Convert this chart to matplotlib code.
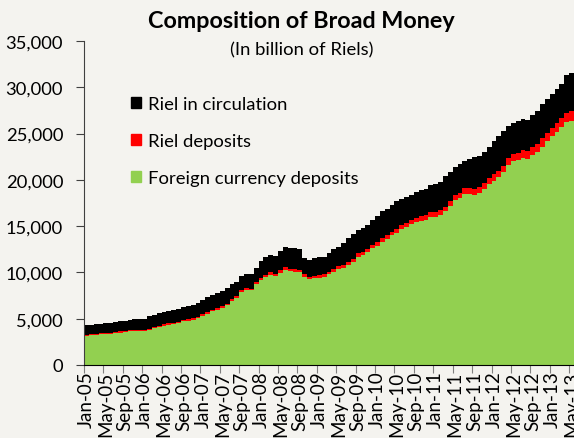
import matplotlib.pyplot as plt
from matplotlib.patches import Patch

# Months Jan-05 .. May-13
months = []
for yr in range(5, 14):
    for m in ["Jan", "Feb", "Mar", "Apr", "May", "Jun", "Jul", "Aug", "Sep", "Oct", "Nov", "Dec"]:
        months.append(f"{m}-{yr:02d}")
months = months[:101]

# Foreign currency deposits (billion Riels)
foreign = [3160, 3200, 3250, 3300, 3380, 3350, 3420, 3500, 3530, 3620, 3650, 3680,
           3660, 3800, 3950, 4100, 4250, 4350, 4400, 4550, 4700, 4800, 4900, 5050,
           5300, 5550, 5800, 5950, 6150, 6450, 6950, 7250, 7900, 8100, 8050, 8700,
           9150, 9500, 9750, 9600, 9950, 10300, 10150, 10100, 10050, 9550, 9300, 9400,
           9450, 9500, 9800, 10050, 10350, 10500, 10800, 11100, 11700, 11900, 12200, 12600,
           12900, 13300, 13600, 14000, 14300, 14700, 14900, 15200, 15400, 15600, 15700, 16000,
           16000, 16200, 16600, 17200, 17800, 18000, 18500, 18500, 18400, 18600, 19000, 19500,
           19900, 20300, 20800, 21600, 22000, 22100, 22400, 22300, 22700, 23000, 23600, 24200,
           24700, 25200, 25700, 26200, 26400]

# Riel deposits
riel_dep = [110, 110, 110, 110, 110, 110, 120, 120, 120, 120, 120, 120,
            130, 130, 130, 130, 130, 140, 140, 140, 140, 150, 150, 150,
            160, 160, 170, 170, 180, 180, 200, 200, 200, 210, 210, 220,
            230, 240, 250, 250, 260, 270, 270, 260, 260, 250, 250, 260,
            270, 280, 290, 300, 300, 320, 330, 340, 350, 360, 370, 380,
            390, 400, 410, 420, 430, 440, 450, 460, 470, 480, 490, 500,
            500, 510, 520, 540, 560, 580, 600, 610, 620, 630, 650, 670,
            690, 710, 730, 760, 780, 790, 800, 820, 840, 860, 880, 900,
            930, 960, 990, 1020, 1050]

# Riel in circulation
riel_circ = [1030, 1040, 1020, 1040, 1060, 1080, 1080, 1080, 1100, 1160, 1150, 1160,
             1210, 1320, 1370, 1420, 1370, 1360, 1410, 1410, 1410, 1450, 1400, 1450,
             1540, 1590, 1630, 1630, 1670, 1720, 1650, 1550, 1550, 1490, 1590, 1580,
             1820, 1960, 1900, 1950, 2090, 2130, 2230, 2240, 2240, 1800, 1800, 1890,
             1930, 1920, 2010, 2150, 2150, 2380, 2570, 2660, 2550, 2540, 2530, 2720,
             2810, 2900, 2790, 2880, 2970, 2810, 2850, 2740, 2830, 2820, 2810, 2900,
             3000, 3090, 3280, 3160, 3040, 3120, 2900, 3190, 3480, 3370, 3350, 3430,
             3610, 3690, 3770, 3440, 3320, 3510, 3400, 3380, 3460, 3540, 3720, 3600,
             3670, 3640, 3710, 4080, 4050]

bg = "#F4F3EF"
plt.rcParams['font.family'] = ['Lato', 'DejaVu Sans']

fig = plt.figure(figsize=(5.74, 4.39), dpi=100, facecolor=bg)
ax = fig.add_axes([0.1463, 0.1663, 0.8537, 0.738])
ax.set_facecolor(bg)

x = list(range(len(months)))
bottom2 = [f + r for f, r in zip(foreign, riel_dep)]
ax.bar(x, foreign, width=1.0, align='edge', color="#92D050", linewidth=0)
ax.bar(x, riel_dep, width=1.0, align='edge', bottom=foreign, color="#FF0000", linewidth=0)
ax.bar(x, riel_circ, width=1.0, align='edge', bottom=bottom2, color="#000000", linewidth=0)

ax.set_xlim(0, len(months))
ax.set_ylim(0, 35000)
ax.set_yticks(range(0, 35001, 5000))
ax.set_yticklabels([f"{v:,}" for v in range(0, 35001, 5000)], fontsize=13.2)

# tick marks at category boundaries, labels at category centres
ax.set_xticks(range(0, len(months), 4))
ax.set_xticklabels([])
ax.set_xticks([i + 0.5 for i in range(0, len(months), 4)], minor=True)
ax.set_xticklabels(months[::4], minor=True, rotation=90, fontsize=13.5)
ax.tick_params(axis='x', which='major', length=6, color="#808080", direction='out')
ax.tick_params(axis='x', which='minor', length=0, pad=4)
ax.tick_params(axis='y', length=6, color="#404040", pad=9)

for s in ["top", "right"]:
    ax.spines[s].set_visible(False)
ax.spines["left"].set_color("#404040")
ax.spines["bottom"].set_color("#000000")

fig.text(0.525, 1 - 22 / 439, "Composition of Broad Money", ha='center', va='center',
         fontsize=16.8, fontweight='bold')
fig.text(0.525, 1 - 50 / 439, "(In billion of Riels)", ha='center', va='center', fontsize=13.3)

handles = [Patch(color="#000000"), Patch(color="#FF0000"), Patch(color="#92D050")]
labels = ["Riel in circulation", "Riel deposits", "Foreign currency deposits"]
ax.legend(handles, labels, loc='upper left', bbox_to_anchor=(0.08, 0.852), frameon=False,
          fontsize=13.3, handlelength=0.55, handleheight=0.55, handletextpad=0.4,
          labelspacing=1.12, borderaxespad=0)

fig.savefig("out.png", dpi=100, facecolor=bg)
